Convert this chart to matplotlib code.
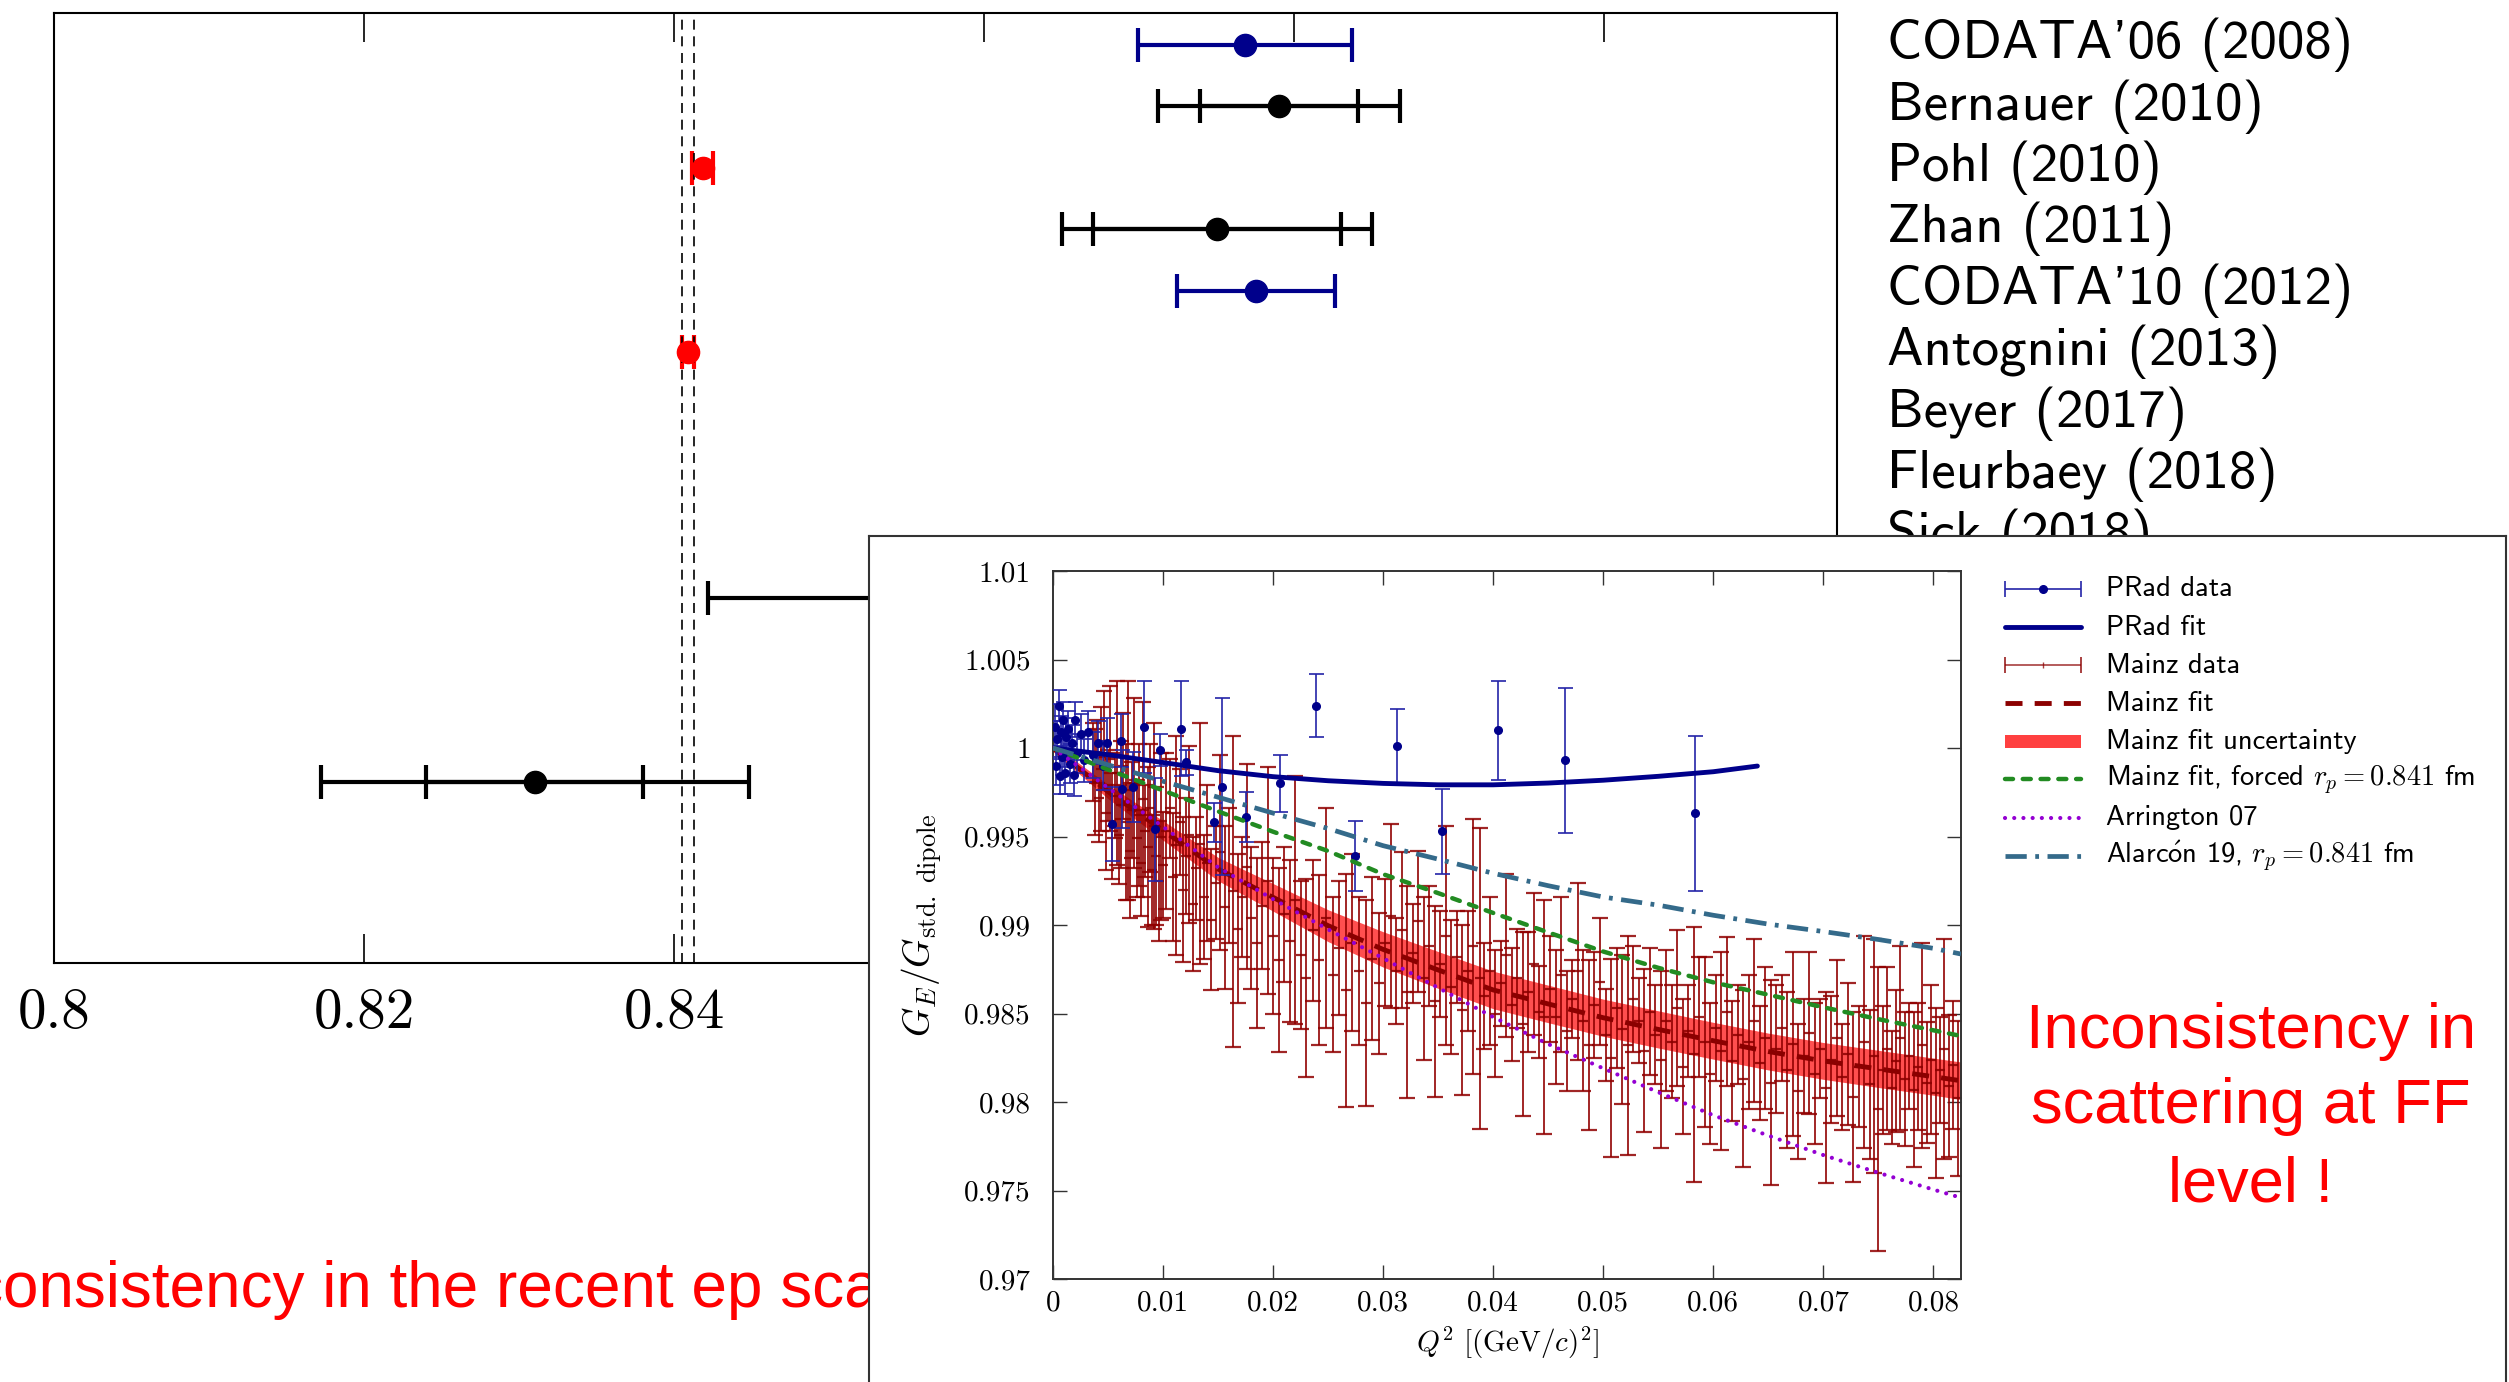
from matplotlib import use
use('Agg')
import matplotlib.pyplot as plt
from matplotlib.patches import Rectangle

plt.rcParams['mathtext.fontset'] = 'cm'
plt.rcParams['axes.unicode_minus'] = False

SERIF = 'cmr10'
SANS = ['cmss10', 'DejaVu Sans']
ARIAL = 'Liberation Sans'
NAVY = '#00008b'
DARKRED = '#8b0000'

# ---------------- proton radius compilation (background) ----------------
rad_names = ["CODATA'06 (2008)", "Bernauer (2010)", "Pohl (2010)", "Zhan (2011)",
             "CODATA'10 (2012)", "Antognini (2013)", "Beyer (2017)",
             "Fleurbaey (2018)", "Sick (2018)"]
rad_row = [1, 2, 3, 4, 5, 6, 10, 13]
rad_r = [0.8768, 0.8790, 0.84184, 0.8750, 0.8775, 0.84087, 0.8705, 0.8310]
rad_tot = [0.0069, 0.0078, 0.00067, 0.0100, 0.0051, 0.00039, 0.0283, 0.0138]
rad_stat = [0, 0.0051, 0, 0.0080, 0, 0, 0, 0.0070]
rad_col = [NAVY, 'k', 'r', 'k', NAVY, 'r', 'k', 'k']
muon_band = [0.84048, 0.84126]
rad_ticks = [0.80, 0.82, 0.84, 0.86, 0.88, 0.90]
rad_ticklabels = ['0.8', '0.82', '0.84', '0.86', '0.88', '0.9']

# ---------------- G_E / G_dipole inset ----------------
prad_q2 = [0.0002, 0.0003, 0.0004, 0.0005, 0.0006, 0.0007, 0.0008, 0.0009, 0.0010, 0.0011,
           0.0012, 0.0014, 0.0015, 0.0017, 0.0019, 0.0020, 0.0022, 0.0025, 0.0028, 0.0032,
           0.0036, 0.0041, 0.0045, 0.0049, 0.0054, 0.0062, 0.0063, 0.0073, 0.0083, 0.0093,
           0.0097, 0.0116, 0.0121, 0.0146, 0.0154, 0.0175, 0.0206, 0.0239, 0.0274, 0.0313,
           0.0353, 0.0404, 0.0465, 0.0583]
prad_ge = [1.0012, 0.9990, 1.0005, 1.0024, 0.9984, 1.0009, 0.9995, 1.0016, 0.9998, 0.9986,
           1.0006, 1.0011, 0.9991, 1.0003, 0.9985, 1.0016, 0.9997, 1.0008, 0.9993, 1.0009,
           0.9996, 1.0003, 0.9990, 1.0003, 0.9957, 1.0004, 0.9977, 0.9978, 1.0012, 0.9954,
           0.9999, 1.0011, 0.9992, 0.9958, 0.9978, 0.9961, 0.9980, 1.0024, 0.9939, 1.0001,
           0.9953, 1.0010, 0.9993, 0.9963]
prad_err = [0.0013, 0.0011, 0.0010, 0.0009, 0.0010, 0.0009, 0.0010, 0.0010, 0.0009, 0.0012,
            0.0011, 0.0010, 0.0011, 0.0010, 0.0012, 0.0010, 0.0011, 0.0011, 0.0012, 0.0012,
            0.0013, 0.0012, 0.0014, 0.0014, 0.0021, 0.0015, 0.0022, 0.0020, 0.0026, 0.0029,
            0.0009, 0.0027, 0.0007, 0.0011, 0.0050, 0.0014, 0.0016, 0.0018, 0.0020, 0.0021,
            0.0024, 0.0028, 0.0041, 0.0044]

mainz_q2 = [0.0036, 0.0038, 0.0040, 0.0042, 0.0044, 0.0046, 0.0048, 0.0050, 0.0052, 0.0054,
            0.0056, 0.0058, 0.0060, 0.0062, 0.0064, 0.0066, 0.0068, 0.0070, 0.0072, 0.0074,
            0.0076, 0.0078, 0.0080, 0.0082, 0.0084, 0.0086, 0.0088, 0.0090, 0.0092, 0.0094,
            0.0096, 0.0098, 0.0100,
            0.0103, 0.0106, 0.0109, 0.0112, 0.0115, 0.0118, 0.0121, 0.0124, 0.0127, 0.0130,
            0.0134, 0.0137, 0.0140, 0.0144, 0.0148, 0.0152, 0.0156, 0.0160, 0.0164, 0.0168,
            0.0172, 0.0176, 0.0180, 0.0185, 0.0190, 0.0195, 0.0200, 0.0205, 0.0210, 0.0215,
            0.0220, 0.0225, 0.0230, 0.0236, 0.0242, 0.0248, 0.0254, 0.0260, 0.0266, 0.0272,
            0.0278, 0.0284, 0.0290, 0.0296,
            0.0302, 0.0307, 0.0312, 0.0317, 0.0322, 0.0327, 0.0332, 0.0337, 0.0342, 0.0347,
            0.0352, 0.0357, 0.0362, 0.0367, 0.0372, 0.0377, 0.0382, 0.0388, 0.0392, 0.0397,
            0.0402, 0.0407, 0.0412, 0.0417, 0.0422, 0.0427, 0.0432, 0.0437, 0.0442, 0.0446,
            0.0452, 0.0457, 0.0462, 0.0467, 0.0472, 0.0477, 0.0482, 0.0487, 0.0492, 0.0497,
            0.0502, 0.0507, 0.0512, 0.0517, 0.0522, 0.0527, 0.0532, 0.0537, 0.0542, 0.0547,
            0.0552, 0.0557, 0.0562, 0.0567, 0.0572, 0.0577, 0.0582, 0.0587, 0.0592, 0.0597,
            0.0602, 0.0607, 0.0612, 0.0617, 0.0622, 0.0627, 0.0632, 0.0637, 0.0642, 0.0647,
            0.0652, 0.0657, 0.0662, 0.0667, 0.0672, 0.0677, 0.0682, 0.0687, 0.0692, 0.0697,
            0.0702, 0.0707, 0.0712, 0.0717, 0.0722, 0.0727, 0.0732, 0.0737, 0.0742, 0.0746,
            0.0750, 0.0754, 0.0758, 0.0762, 0.0766, 0.0770, 0.0774, 0.0778, 0.0782, 0.0786,
            0.0790, 0.0794, 0.0798, 0.0802, 0.0806, 0.0810, 0.0814, 0.0818, 0.0822]
mainz_ge = [0.9992, 0.9981, 0.9998, 0.9972, 0.9988, 1.0004, 0.9963, 0.9979, 0.9994, 0.9956,
            0.9973, 0.9986, 0.9951, 0.9968, 0.9990, 0.9958, 0.9976, 0.9942, 0.9965, 0.9980,
            0.9949, 0.9962, 0.9935, 0.9971, 0.9953, 0.9944, 0.9966, 0.9931, 0.9956, 0.9939,
            0.9925, 0.9950, 0.9934,
            0.9953, 0.9966, 0.9927, 0.9945, 0.9958, 0.9920, 0.9939, 0.9951, 0.9912, 0.9932,
            0.9946, 0.9916, 0.9935, 0.9903, 0.9924, 0.9941, 0.9910, 0.9928, 0.9919, 0.9898,
            0.9916, 0.9933, 0.9904, 0.9890, 0.9911, 0.9925, 0.9894, 0.9880, 0.9906, 0.9891,
            0.9914, 0.9883, 0.9870, 0.9897, 0.9880, 0.9904, 0.9872, 0.9887, 0.9863, 0.9890,
            0.9874, 0.9856, 0.9881, 0.9867,
            0.9890, 0.9905, 0.9874, 0.9897, 0.9862, 0.9884, 0.9902, 0.9870, 0.9888, 0.9857,
            0.9878, 0.9894, 0.9865, 0.9882, 0.9852, 0.9874, 0.9888, 0.9870, 0.9860, 0.9874,
            0.9850, 0.9867, 0.9883, 0.9855, 0.9870, 0.9844, 0.9862, 0.9878, 0.9851, 0.9848,
            0.9864, 0.9848, 0.9872, 0.9840, 0.9858, 0.9874, 0.9846, 0.9832, 0.9855, 0.9868,
            0.9838, 0.9825, 0.9853, 0.9841, 0.9832, 0.9858, 0.9846, 0.9829, 0.9851, 0.9838,
            0.9824, 0.9846, 0.9834, 0.9853, 0.9820, 0.9840, 0.9827, 0.9848, 0.9834, 0.9816,
            0.9842, 0.9829, 0.9851, 0.9823, 0.9838, 0.9813, 0.9834, 0.9846, 0.9822, 0.9836,
            0.9811, 0.9830, 0.9842, 0.9818, 0.9833, 0.9806, 0.9826, 0.9839, 0.9816, 0.9830,
            0.9808, 0.9824, 0.9836, 0.9814, 0.9827, 0.9803, 0.9820, 0.9834, 0.9810, 0.9826,
            0.9796, 0.9818, 0.9830, 0.9808, 0.9823, 0.9836, 0.9813, 0.9826, 0.9807, 0.9820,
            0.9832, 0.9811, 0.9824, 0.9805, 0.9818, 0.9830, 0.9809, 0.9821, 0.9802]
mainz_err = [0.0022, 0.0030, 0.0018, 0.0025, 0.0035, 0.0028, 0.0032, 0.0020, 0.0041, 0.0030,
             0.0024, 0.0052, 0.0028, 0.0036, 0.0030, 0.0044, 0.0062, 0.0038, 0.0027, 0.0048,
             0.0033, 0.0040, 0.0030, 0.0055, 0.0026, 0.0045, 0.0036, 0.0031, 0.0058, 0.0039,
             0.0034, 0.0047, 0.0030,
             0.0044, 0.0028, 0.0036, 0.0062, 0.0030, 0.0041, 0.0033, 0.0050, 0.0038, 0.0029,
             0.0068, 0.0035, 0.0044, 0.0040, 0.0032, 0.0055, 0.0046, 0.0038, 0.0088, 0.0042,
             0.0034, 0.0058, 0.0040, 0.0048, 0.0036, 0.0064, 0.0044, 0.0052, 0.0038, 0.0046,
             0.0070, 0.0042, 0.0056, 0.0040, 0.0048, 0.0062, 0.0044, 0.0038, 0.0066, 0.0050,
             0.0042, 0.0058, 0.0046, 0.0040,
             0.0036, 0.0052, 0.0030, 0.0044, 0.0060, 0.0028, 0.0040, 0.0046, 0.0034, 0.0054,
             0.0030, 0.0062, 0.0038, 0.0026, 0.0048, 0.0034, 0.0072, 0.0085, 0.0030, 0.0042,
             0.0036, 0.0024, 0.0046, 0.0032, 0.0028, 0.0052, 0.0034, 0.0040, 0.0026, 0.0066,
             0.0030, 0.0038, 0.0044, 0.0034, 0.0022, 0.0050, 0.0040, 0.0048, 0.0030, 0.0036,
             0.0026, 0.0056, 0.0034, 0.0042, 0.0062, 0.0030, 0.0024, 0.0046, 0.0036, 0.0028,
             0.0050, 0.0040, 0.0032, 0.0044, 0.0038, 0.0026, 0.0072, 0.0034, 0.0048, 0.0040,
             0.0030, 0.0056, 0.0042, 0.0034, 0.0028, 0.0050, 0.0038, 0.0046, 0.0032, 0.0040,
             0.0058, 0.0036, 0.0030, 0.0044, 0.0052, 0.0038, 0.0032, 0.0046, 0.0040, 0.0028,
             0.0054, 0.0036, 0.0044, 0.0030, 0.0040, 0.0048, 0.0034, 0.0060, 0.0042, 0.0066,
             0.0080, 0.0036, 0.0046, 0.0032, 0.0040, 0.0052, 0.0038, 0.0030, 0.0044, 0.0036,
             0.0058, 0.0034, 0.0042, 0.0048, 0.0030, 0.0062, 0.0040, 0.0036, 0.0044]

# curves
prad_fit_q2 = [0, 0.005, 0.01, 0.015, 0.02, 0.025, 0.03, 0.035, 0.04, 0.045, 0.05, 0.055, 0.06, 0.064]
prad_fit = [1.0, 0.99962, 0.99918, 0.99872, 0.99838, 0.99815, 0.998, 0.99792, 0.99792, 0.99802,
            0.99818, 0.9984, 0.99866, 0.99898]
fit_q2 = [0, 0.005, 0.01, 0.015, 0.02, 0.025, 0.03, 0.035, 0.04, 0.045, 0.05, 0.055, 0.06,
          0.065, 0.07, 0.075, 0.08, 0.0825]
mainz_fit = [1.0, 0.99754, 0.99534, 0.99316, 0.99156, 0.98996, 0.98862, 0.98746, 0.98633, 0.98554,
             0.98476, 0.9841, 0.98346, 0.98285, 0.98232, 0.98187, 0.98143, 0.9812]
mainz_unc = [0.0002, 0.0004, 0.00055, 0.00066, 0.00078, 0.0009, 0.001, 0.00104, 0.00106, 0.00106,
             0.00105, 0.00105, 0.00104, 0.00104, 0.00104, 0.00105, 0.00105, 0.00106]
forced_fit = [1.0, 0.99878, 0.9976, 0.99642, 0.99527, 0.99418, 0.99287, 0.9918, 0.99068, 0.98958,
              0.9885, 0.98758, 0.98676, 0.98606, 0.98535, 0.98468, 0.98405, 0.98373]
arrington = [1.0, 0.99775, 0.99555, 0.99326, 0.99146, 0.98975, 0.98812, 0.98645, 0.9848, 0.98327,
             0.9819, 0.98055, 0.97925, 0.9781, 0.977, 0.976, 0.97505, 0.97459]
alarcon = [1.0, 0.99905, 0.99812, 0.99722, 0.99632, 0.99545, 0.99448, 0.99372, 0.99292, 0.99222,
           0.99158, 0.99112, 0.99055, 0.99005, 0.98963, 0.98918, 0.98868, 0.98836]

q2_ticks = [0, 0.01, 0.02, 0.03, 0.04, 0.05, 0.06, 0.07, 0.08]
q2_ticklabels = ['0', '0.01', '0.02', '0.03', '0.04', '0.05', '0.06', '0.07', '0.08']
ge_ticks = [0.97, 0.975, 0.98, 0.985, 0.99, 0.995, 1.0, 1.005, 1.01]
ge_ticklabels = ['0.97', '0.975', '0.98', '0.985', '0.99', '0.995', '1', '1.005', '1.01']

legend_labels = ['PRad data', 'PRad fit', 'Mainz data', 'Mainz fit', 'Mainz fit uncertainty',
                 r'Mainz fit, forced $r_p = 0.841$ fm', 'Arrington 07',
                 r'Alarc$\acute{\mathsf{o}}$n 19, $r_p = 0.841$ fm']

W, H = 2509, 1382
fig = plt.figure(figsize=(W / 100, H / 100), dpi=100)


def box(l, t, r, b):
    # pixel box (left, top, right, bottom) -> figure fraction
    return [l / W, 1 - b / H, (r - l) / W, (b - t) / H]


# background: radius compilation
ax0 = fig.add_axes(box(54, 13, 1837, 963))
for row, r, et, es, c in zip(rad_row, rad_r, rad_tot, rad_stat, rad_col):
    ax0.errorbar(r, row, xerr=et, fmt='o', color=c, ms=16, lw=3, capsize=12.5, capthick=3)
    if es:
        ax0.errorbar(r, row, xerr=es, fmt='none', ecolor=c, lw=3, capsize=12.5, capthick=3)
for v in muon_band:
    ax0.axvline(v, color='k', lw=1.2, ls=(0, (6, 4)))
ax0.set_xlim(0.8, 0.915)
ax0.set_ylim(15.95, 0.48)
ax0.set_yticks([])
ax0.set_xticks(rad_ticks, rad_ticklabels, fontfamily=SERIF, fontsize=41)
ax0.tick_params(axis='x', direction='in', top=True, length=21, width=1.2, pad=18)
for s in ax0.spines.values():
    s.set_linewidth(1.5)
trans = ax0.get_yaxis_transform()
for i, name in enumerate(rad_names):
    ax0.text(1.028, i + 1, name, transform=trans, family=SANS, fontsize=39.5,
             ha='left', va='center', clip_on=False)

fig.text(-82 / W, 1 - 1307 / H, 'Inconsistency in the recent ep scattering data',
         color='r', fontsize=46, family=ARIAL, va='baseline', zorder=3)

# white panel holding the inset
panel = fig.add_axes(box(869, 536, 2506, 1420))
panel.set_zorder(5)
panel.set_xticks([])
panel.set_yticks([])
panel.spines['bottom'].set_visible(False)
for s in panel.spines.values():
    s.set_linewidth(1.5)
    s.set_color('#333333')

ax = fig.add_axes(box(1053, 571, 1961, 1279))
ax.set_zorder(6)
ax.set_facecolor('none')

band_lo = [c - w for c, w in zip(mainz_fit, mainz_unc)]
band_hi = [c + w for c, w in zip(mainz_fit, mainz_unc)]
ax.fill_between(fit_q2, band_lo, band_hi, color='#ff3030', alpha=0.85, lw=0, zorder=1.5)
ax.errorbar(mainz_q2, mainz_ge, yerr=mainz_err, fmt='_', ms=7, mew=1.6, color=DARKRED,
            ecolor='#900000', elinewidth=1.4, capsize=5.8, capthick=1.7, alpha=0.85, zorder=2)
ax.plot(fit_q2, mainz_fit, color=DARKRED, lw=3.5, dashes=(3.5, 2.5), zorder=4)
ax.errorbar(prad_q2, prad_ge, yerr=prad_err, fmt='o', ms=5.5, color=NAVY, ecolor='#2424a8',
            elinewidth=1.2, capsize=5.4, capthick=1.2, zorder=5)
ax.plot(prad_fit_q2, prad_fit, color=NAVY, lw=3.5, solid_capstyle='round', zorder=6)
ax.plot(fit_q2, forced_fit, color='#228b22', lw=3.2, dashes=(1.8, 2.2), dash_capstyle='round', zorder=6)
ax.plot(fit_q2, arrington, color='#9400d3', lw=3, dashes=(0.01, 2.2), dash_capstyle='round', zorder=6)
ax.plot(fit_q2, alarcon, color='#346a8a', lw=3.4, dashes=(4.5, 1.8, 0.8, 1.8), zorder=7)

ax.set_xlim(0, 0.0825)
ax.set_ylim(0.97, 1.01)
ax.set_xticks(q2_ticks, q2_ticklabels, fontfamily=SERIF, fontsize=21)
ax.set_yticks(ge_ticks, ge_ticklabels, fontfamily=SERIF, fontsize=21)
ax.tick_params(direction='in', top=True, right=True, length=10, width=1.0, color='#333333')
ax.tick_params(axis='x', pad=8)
ax.tick_params(axis='y', pad=16)
for s in ax.spines.values():
    s.set_linewidth(1.4)
    s.set_color('#333333')
ax.set_xlabel(r'$Q^2\ [(\mathrm{GeV}/c)^2]$', fontsize=21)
ax.xaxis.set_label_coords(0.5, -0.065)
ax.set_ylabel(r'$G_E/G_{\mathrm{std.\ dipole}}$', fontsize=27)
ax.yaxis.set_label_coords(-0.12, 0.5)

# legend drawn by hand in its own axes
lax = fig.add_axes(box(2000, 560, 2500, 880))
lax.set_zorder(6)
lax.axis('off')
lax.set_xlim(0, 1)
lax.set_ylim(8.64, 0.24)
h0, h1, hm = 0.01, 0.162, 0.086
lax.errorbar([hm], [1], xerr=[hm - h0], fmt='o', ms=5.5, color=NAVY, ecolor='#2424a8',
             elinewidth=1.2, capsize=6, capthick=1.2)
lax.plot([h0, h1], [2, 2], color=NAVY, lw=3.5, solid_capstyle='round')
lax.errorbar([hm], [3], xerr=[hm - h0], fmt='|', ms=5, color=DARKRED, elinewidth=1.2,
             capsize=6, capthick=1.4, alpha=0.75)
lax.plot([h0, h1], [4, 4], color=DARKRED, lw=3.5, dashes=(3.5, 2.5))
lax.add_patch(Rectangle((h0, 5 - 0.17), h1 - h0, 0.34, color='#ff4040', lw=0))
lax.plot([h0, h1], [6, 6], color='#228b22', lw=3.2, dashes=(1.8, 2.2), dash_capstyle='round')
lax.plot([h0, h1], [7, 7], color='#9400d3', lw=3, dashes=(0.01, 2.2), dash_capstyle='round')
lax.plot([h0, h1], [8, 8], color='#346a8a', lw=3.4, dashes=(4.5, 1.8, 0.8, 1.8))
for i, lab in enumerate(legend_labels):
    lax.text(0.213, i + 1, lab, family=SANS, fontsize=20.5, va='center', ha='left')

for y, line in zip([1048, 1123, 1202], ['Inconsistency in', 'scattering at FF', 'level !']):
    fig.text(2251 / W, 1 - y / H, line, color='r', fontsize=45.5, family=ARIAL,
             ha='center', va='baseline', zorder=10)

fig.savefig('out.png', dpi=100)
